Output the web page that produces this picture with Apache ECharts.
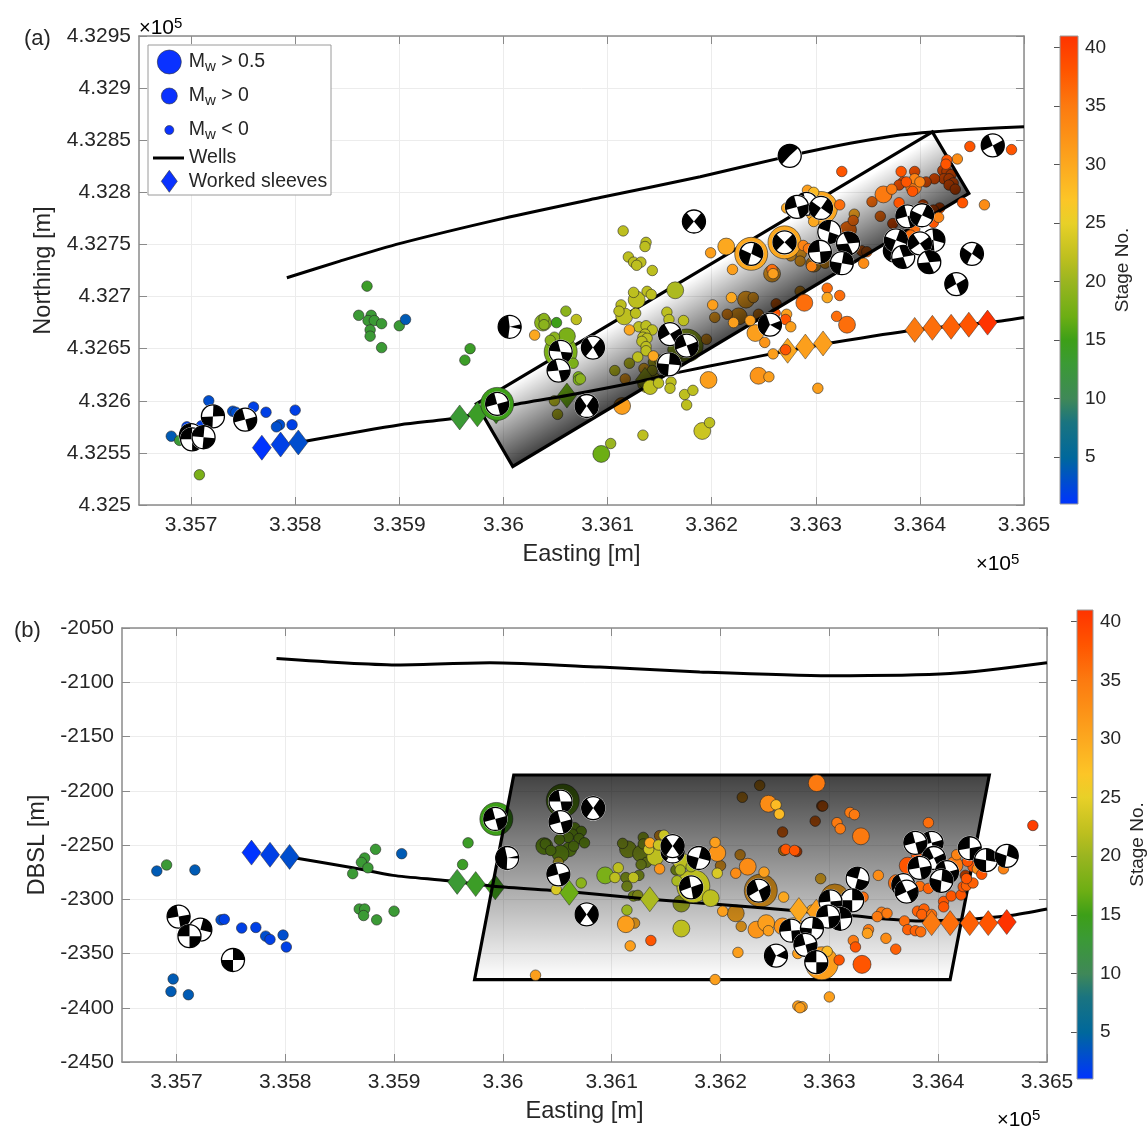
<!DOCTYPE html>
<html><head><meta charset="utf-8">
<script src="https://cdn.jsdelivr.net/npm/echarts@6/dist/echarts.min.js"></script>
<style>html,body{margin:0;padding:0;background:#fff}#c{width:1148px;height:1126px}</style>
</head><body><div id="c"></div>
<script>
// ---- axis tick values
const eastTicks=[335700,335800,335900,336000,336100,336200,336300,336400,336500];
const stageTicks=[5,10,15,20,25,30,35,40];
// ---- colormap: [stage, colour]
const stageStops=[[1,'#0033ff'],[5,'#00689c'],[8,'#1a7480'],[10,'#3f8858'],[13,'#3b9a35'],[15,'#3d9f18'],[17,'#6cae14'],[20,'#9ab520'],[22,'#bdbf1f'],[25,'#e8d028'],[27,'#fcc527'],[30,'#fca81f'],[33,'#fc8c15'],[35,'#fc7a10'],[38,'#ff5500'],[41,'#ff3300']];
// ---- wells [easting, northing] / [easting, depth]
const wellUpperMap=[[335792,432718],[335843,432734],[335901,432751],[336000,432775],[336093,432795],[336189,432815],[336275,432835],[336333,432847],[336381,432855],[336412,432858],[336458,432861],[336500,432863]];
const wellLowerMap=[[335803,432560],[335901,432577],[335958,432584],[336009,432596],[336061,432605],[336128,432618],[336167,432627],[336227,432639],[336273,432648],[336317,432656],[336395,432668],[336465,432675],[336500,432680]];
const wellUpperDepth=[[335792,-2078],[335906,-2084],[335988,-2082],[336089,-2086],[336181,-2090.5],[336300,-2094],[336411,-2092],[336500,-2082]];
const wellLowerDepth=[[335804,-2261],[335862,-2271],[335899,-2278],[335950,-2283],[335991,-2288],[336062,-2293],[336135,-2300],[336202,-2305],[336261,-2310],[336319,-2315],[336383,-2320],[336420,-2319],[336466,-2315],[336500,-2309]];
// ---- fracture plane outline and its shading direction
const planeMap=[[335974,432597],[336412,432858],[336447,432799],[336009,432537]];
const planeDepth=[[336010,-2185.5],[336447,-2185.5],[336411,-2374],[335974,-2374]];
const shadeMap=[[335974,432597],[336009,432537]];
const shadeDepth=[[336010,-2374],[336010,-2185.5]];
// ---- worked sleeves [easting, northing|depth, stage]
const sleevesMapBehind=[[335993,432590,15],[336061,432605,17],[336136,432620,21]];
const sleevesMapFront=[[335768,432555,1],[335786,432558,2],[335803,432560,3],[335958,432584,13],[335975,432587,14],[336273,432648,30],[336290,432652,31],[336307,432655,31],[336395,432668,35],[336412,432670,36],[336430,432671,37],[336447,432673,38],[336465,432675,41]];
const sleevesDepthBehind=[[335993,-2289,15]];
const sleevesDepthFront=[[335769,-2257,1],[335786,-2259,2],[335804,-2261,3],[335958,-2284,13],[335975,-2286,14],[336061,-2294,17],[336135,-2300,21],[336272,-2310,30],[336288,-2311.5,31],[336305,-2313,31],[336394,-2322,35],[336411,-2322,36],[336429,-2322,37],[336446,-2322,38],[336463,-2321,41]];
// ---- microseismic events [easting, northing, stage, Mw]
const eventsMapBehind=[
[336121,432636,22,-.3],[336107,432629,22,-.3],[336117,432621,30,-.3],[336135,432631,28,-.3],[336144,432637,22,-.3],[336143,432629,22,-.3],[336150,432639,23,-.3],[336138,432617,23,.4],[336143,432620,23,.3],
[336195,432659,30,-.3],[336203,432680,30,-.3],[336215,432683,32,-.3],[336226,432681,30,.3],[336233,432697,30,.3],[336240,432699,30,-.3],[336245,432683,32,-.3],[336258,432722,30,.3],
[336049,432600,22,-.3],[336052,432587,22,-.3],[336114,432595,31,.3],[336262,432693,36,-.3],[336261,432684,38,-.3],[336176,432653,20,1],[336167,432649,20,.4],
[336337,432779,30,-.3],[336336,432773,36,-.3],[336331,432764,36,.3],[336286,432741,30,-.3],[336285,432734,30,-.3],[336276,432739,30,-.3],[336298,432731,30,.25],[336309,432732,30,-.3],[336285,432705,30,-.3],
[336395,432820,38,-.3],[336422,432821,38,-.3],[336426,432820,38,-.3],[336430,432817,38,-.3],[336423,432813,38,-.3],[336428,432813,38,-.3],[336432,432809,38,-.3],[336428,432807,38,-.3],[336434,432803,38,-.3],[336414,432813,38,-.3],[336406,432810,38,-.3],[336384,432810,38,-.3],[336380,432807,38,-.3],[336368,432797,33,-.3],[336354,432791,36,-.3],[336362,432777,36,-.3],[336374,432770,38,-.3],[336419,432785,38,-.3],[336413,432783,38,-.3],[336403,432788,38,-.3],[336344,432744,36,-.3],[336349,432743,36,-.3]];
const eventsMapFront=[
[335717,432600,3,-.5],[335681,432566,4,-.5],[335696,432575,2,-.5],[335710,432576,2,-.5],[335689,432562,13,-.5],[335708,432529,18,-.5],[335740,432590,3,-.5],[335743,432589,3,-.5],[335760,432594,2,-.5],[335772,432589,2,-.5],[335785,432577,3,-.5],[335782,432575,3,-.5],[335797,432577,2,-.5],[335800,432591,2,-.5],
[335861,432682,13,-.5],[335873,432682,13,-.5],[335870,432677,13,-.5],[335876,432677,13,-.5],[335883,432674,13,-.5],[335872,432668,13,-.5],[335872,432662,13,-.5],[335883,432651,13,-.5],[335900,432672,13,-.5],[335906,432678,4,-.5],[335968,432650,14,-.5],[335963,432639,14,-.5],[335869,432710,14,-.5],
[336115,432763,22,-.3],[336137,432752,22,-.3],[336136,432748,22,-.3],[336120,432738,22,-.3],[336125,432733,22,-.3],[336132,432733,22,-.3],[336128,432730,22,-.3],[336143,432725,22,-.3],[336125,432704,22,-.3],[336138,432705,22,-.3],[336142,432702,22,-.3],[336128,432697,22,.3],[336165,432706,21,.3],[336113,432692,22,-.3],[336111,432686,22,-.3],[336116,432681,22,.3],[336127,432684,22,-.3],
[336060,432686,19,-.3],[336070,432678,22,-.3],[336051,432675,15,-.3],[336038,432675,19,.3],[336039,432679,19,-.3],[336039,432673,19,-.3],[336030,432663,30,-.3],[336049,432661,19,-.3],[336045,432658,19,-.3],[336061,432662,18,.3],[336067,432636,18,-.3],[336072,432623,18,-.3],[336072,432620,18,-.3],[336074,432621,19,-.3],
[336130,432671,22,-.3],[336137,432672,22,-.3],[336143,432668,22,-.3],[336121,432668,30,-.3],[336136,432664,22,-.3],[336134,432661,22,-.3],[336138,432660,22,-.3],[336133,432657,22,-.3],[336137,432652,22,-.3],[336137,432648,22,-.3],[336129,432642,22,-.3],[336144,432643,30,-.3],
[336141,432613,22,.2],[336149,432617,22,-.3],[336161,432618,22,-.3],[336160,432612,22,-.3],[336174,432606,22,-.3],[336182,432610,22,-.3],[336176,432596,22,-.3],[336198,432579,22,-.3],[336191,432571,23,.3],[336134,432567,22,-.3],[336103,432559,20,-.3],[336094,432549,17,.3],
[336197,432620,31,.3],[336245,432624,32,.3],[336255,432623,31,-.3],[336242,432665,31,.3],[336251,432656,32,-.3],[336157,432685,22,-.3],[336159,432678,22,-.3],[336173,432677,22,-.3],[336201,432692,31,-.3],[336219,432699,30,-.3],[336221,432675,31,-.3],[336237,432677,31,-.3],[336199,432742,31,-.3],[336214,432748,30,.3],[336220,432726,31,-.3],[336258,432726,36,-.3],[336259,432722,31,-.3],
[335994,432597,15,1],[336055,432647,18,1],[336238,432741,30,1],[336270,432752,30,1],[336305,432785,30,1],
[336292,432802,31,-.3],[336298,432800,28,-.3],[336272,432785,30,-.3],[336298,432772,30,-.3],[336323,432788,36,-.3],[336288,432749,34,-.3],[336293,432746,35,-.3],[336296,432729,34,-.3],[336311,432708,36,-.3],[336323,432701,36,-.3],[336311,432699,30,-.3],[336289,432694,36,.3],[336272,432683,31,-.3],[336271,432678,38,-.3],[336276,432671,31,-.3],[336259,432645,31,-.3],[336271,432649,38,-.3],[336302,432612,31,-.3],[336320,432681,36,-.3],[336330,432673,36,.3],
[336325,432820,38,-.3],[336448,432844,38,-.3],[336488,432841,38,-.3],[336436,432832,33,-.3],[336426,432831,38,-.3],[336425,432827,38,-.3],[336382,432820,38,-.3],[336395,432813,34,-.3],[336387,432810,38,-.3],[336400,432810,34,-.3],[336373,432803,35,-.3],[336365,432798,35,.3],[336380,432790,38,-.3],[336394,432805,35,.25],[336393,432801,38,-.3],[336462,432788,33,-.3],[336441,432790,38,-.3],[336413,432771,38,-.3],[336418,432776,34,-.3],[336395,432765,36,-.3],[336391,432759,36,-.3],[336346,432732,33,-.3]];
const eventsDepthBehind=[
[335994,-2226,15,1],[336055,-2209,17,1],[336066,-2234,18,-.3],[336072,-2237.4,18,-.3],[336064,-2240,18,-.3],[336070,-2244,18,-.3],[336060,-2243,18,-.3],[336052,-2245,18,-.3],[336075,-2248,18,-.3],[336065,-2251,18,-.3],[336061,-2254,18,.2],[336053,-2258,18,.3],[336038,-2251,18,.3],[336039,-2249,18,-.3],[336044,-2255,18,-.3],[336051,-2266,24,-.3],
[336115,-2254,20,.3],[336110,-2248.5,20,-.3],[336129,-2243,20,-.3],[336129,-2249,20,-.3],[336127,-2258,20,.3],[336132,-2266,20,-.3],[336127,-2268,20,-.3],[336144,-2241.4,30,-.3],[336159,-2273,20,-.3],[336113,-2280,20,-.3],[336125,-2278,20,-.3],[336114,-2288,20,-.3],[336120,-2297,20,-.3],[336124,-2296.4,21,-.3],[336164,-2304,21,.3],[336121,-2322,30,-.3],
[336214,-2313,30,.3],[336219,-2325,30,-.3],[336200,-2269,30,-.3],[336218,-2259,30,-.3],[336220,-2206,30,-.3],[336236,-2195,30,-.3],[336257,-2238,36,-.3],[336258,-2255,30,-.3],[336237,-2292,30,1],[336293,-2214,36,-.3],[336294,-2214,36,-.3],[336287,-2228,36,-.3],[336270,-2256,38,-.3],[336292,-2281,28,-.3],[336425,-2278,38,-.3],[336305,-2299,30,.8]];
const eventsDepthFront=[
[335682,-2274,4,-.5],[335691,-2268.4,13,-.5],[335717,-2273,4,-.5],[335697,-2373.5,4,-.5],[335695,-2385,4,-.5],[335711,-2388,4,-.5],[335741,-2319,3,-.5],[335744,-2318.5,2,-.5],[335760,-2326.5,2,-.5],[335773,-2326,2,-.5],[335782,-2334,3,-.5],[335786,-2337,2,-.5],[335798,-2333,3,-.5],[335801,-2344,2,-.5],
[335883,-2254,13,-.5],[335873,-2262,13,-.5],[335870,-2266,13,-.5],[335876,-2271,13,-.5],[335862,-2276.4,13,-.5],[335907,-2258,4,-.5],[335868,-2309,13,-.5],[335873,-2309,13,-.5],[335872,-2315,13,-.5],[335884,-2319,13,-.5],[335900,-2311,13,-.5],[335968,-2248,14,-.5],[335963,-2268,14,-.5],
[336175,-2288,22,1],[336072,-2285,19,-.3],[336049,-2291,24,-.3],[336134,-2254,23,-.3],[336135,-2248,30,-.3],[336140,-2261,22,.3],[336148,-2241,23,-.3],[336143,-2250,23,-.3],[336144,-2272,32,-.3],[336163,-2273,21,-.3],[336164,-2265,22,.3],[336160,-2283,21,-.3],[336173,-2270,21,-.3],[336106,-2271,22,-.3],[336094,-2278,18,.3],[336103,-2280,22,-.3],[336120,-2280,22,-.3],[336114,-2310,20,-.3],[336191,-2299,22,.3],[336164,-2327,22,.3],[336113,-2323,31,.3],[336117,-2343,31,-.3],[336136,-2338,38,-.3],[336030,-2370,31,-.3],[336195,-2374,31,-.3],[336202,-2311,31,-.3],
[336233,-2328,32,.3],[336242,-2322,31,.3],[336244,-2329,31,-.3],[336258,-2298,30,-.3],[336257,-2325,32,.3],[336216,-2349,31,-.3],[336197,-2276,24,-.3],[336214,-2276,33,-.3],[336225,-2270,33,.3],[336240,-2275,31,-.3],[336197,-2257.4,32,.3],[336195,-2247.6,31,-.3],[336244,-2212,33,.3],[336251,-2213,28,-.3],[336254,-2221.5,28,-.3],[336260,-2254,38,-.3],
[336288.4,-2193,35,.3],[336307,-2229.4,35,-.3],[336310,-2235,35,-.3],[336319,-2220,35,-.3],[336323,-2222,35,-.3],[336329,-2242,35,.3],[336268,-2255,38,-.3],[336391,-2229.4,36,-.3],[336487,-2232,40,-.3],[336345,-2278,33,-.3],[336331,-2298,36,-.3],[336348,-2312,35,-.3],[336344,-2316,35,-.3],[336353,-2313,35,-.3],[336369,-2320,36,-.3],[336372,-2328,37,-.3],[336379,-2329,37,-.3],[336384,-2330,36,-.3],[336381,-2311,37,-.3],[336387,-2309,37,-.3],[336385,-2314,37,-.3],[336394,-2314,36,-.3],
[336405,-2302,38,-.3],[336405,-2307,38,-.3],[336412,-2297,38,-.3],[336421,-2296,38,-.3],[336423,-2288.4,38,-.3],[336426,-2287.5,37,-.3],[336432,-2285,37,-.3],[336426,-2281,38,-.3],[336432,-2270,38,-.3],[336436,-2272,33,-.3],[336440,-2277,38,-.3],[336460,-2272,34,-.3],[336427,-2265,38,-.3],[336417,-2259,34,-.3],[336415,-2268.5,35,.3],[336372,-2269,38,.3],[336362,-2285,36,.3],[336383,-2288,36,-.3],[336391,-2290,37,-.3],[336380,-2259,38,-.3],
[336336,-2328,35,-.3],[336335,-2331.4,31,-.3],[336352,-2336,33,-.3],[336322,-2338,35,-.3],[336324,-2344,38,-.3],[336361,-2346,37,-.3],[336309,-2356,38,-.3],[336330,-2360,38,.35],[336298,-2348,28,-.3],[336271,-2350,31,-.3],[336293,-2359,31,1],[336300,-2390,31,-.3],[336271,-2398.4,31,-.3],[336275,-2399,31,-.3],[336273,-2400,31,-.3],[336267,-2328,30,.6],[336284,-2310,30,-.3]];
// ---- focal mechanisms [easting, northing|depth, black-lobe azimuth, lobe width, opposite lobe width]
const ballsMap=[[335700,432567,135,90,90],[335721,432585,45,85,85],[335752,432582,150,90,90],[335701,432563,135,90,90],[335712,432565,130,90,90],
[336183,432772,0,100,100],[336006,432671,180,165,25],[336055,432647,140,70,70],[336053,432629,145,80,80],[336086,432651,175,110,110],[336080,432595,0,110,110],[335994,432597,150,90,90],[336238,432741,25,100,100],[336160,432664,165,90,90],[336176,432653,155,90,90],[336159,432635,40,90,90],
[336275,432835,135,185,0],[336470,432845,160,95,95],[336256,432673,175,130,50],[336291,432789,150,90,90],[336282,432786,150,90,90],[336305,432785,10,90,90],[336313,432762,120,80,80],[336331,432751,60,110,110],[336304,432743,140,90,90],[336325,432732,35,90,90],[336270,432752,0,90,90],
[336376,432744,20,90,90],[336377,432754,25,90,90],[336388,432777,150,90,90],[336402,432778,20,90,90],[336384,432738,60,100,100],[336413,432754,40,110,110],[336400,432751,170,90,90],[336409,432733,60,110,110],[336450,432741,15,100,100],[336435,432712,160,100,100]];
const ballsDepth=[[335702,-2316,145,90,90],[335722,-2328,30,90,90],[335712,-2334,135,90,90],[335752,-2356,45,90,90],
[335993,-2226,150,90,90],[336053,-2210,140,80,80],[336053,-2229,150,90,90],[336083,-2216,0,110,110],[336004,-2262,185,165,15],[336051,-2277,150,90,90],[336077,-2314,0,110,110],[336156,-2256,0,110,110],[336156,-2251,0,110,110],[336180,-2262,30,90,90],[336173,-2289,150,100,100],[336235,-2292,160,100,100],[336251,-2352,185,130,50],
[336326,-2281,120,90,90],[336394,-2248,150,90,90],[336379,-2248,150,90,90],[336396,-2262,160,90,90],[336429,-2253,140,100,100],[336444,-2264,40,100,100],[336463,-2260,30,100,100],[336368,-2287,160,90,90],[336371,-2293,160,90,90],[336408,-2275,150,90,90],[336383,-2271,145,90,90],[336403,-2283,35,100,100],
[336321,-2301,45,90,90],[336301,-2302,140,90,90],[336310,-2318,50,90,90],[336299,-2316,140,90,90],[336265,-2329,140,90,90],[336284,-2327,40,90,90],[336278,-2342,150,90,90],[336288,-2358,135,90,90]];

const FONT='"Liberation Sans",Arial,sans-serif', INK='#262626', BOX='#8a8a8a';
const MW_BIG='Mw > 0.5', MW_MID='Mw > 0', MW_SMALL='Mw < 0', WELLS='Wells', SLEEVES='Worked sleeves';

function hex(c){return [1,3,5].map(i=>parseInt(c.substr(i,2),16));}
function stageColor(s){
  for(let i=1;i<stageStops.length;i++){
    if(s<=stageStops[i][0]){
      const a=stageStops[i-1],b=stageStops[i],t=(s-a[0])/(b[0]-a[0]);
      const A=hex(a[1]),B=hex(b[1]);
      return 'rgb('+A.map((v,k)=>Math.round(v+(B[k]-v)*t)).join(',')+')';
    }
  }
  return stageStops[stageStops.length-1][1];
}
const eventSize=v=>v[3]<0?10.5:10+v[3]*23;
const edge={borderColor:'rgba(40,40,40,.75)',borderWidth:.8,opacity:1};

function eventSeries(rows,name,filter,g,z){
  return {type:'scatter',name,xAxisIndex:g,yAxisIndex:g,z,
    data:rows.filter(filter),symbolSize:eventSize,
    itemStyle:Object.assign({color:p=>stageColor(p.value[2])},edge),
    silent:true,animation:false};
}
function eventLayers(rows,g,z){
  return [eventSeries(rows,MW_BIG,r=>r[3]>0.5,g,z),
          eventSeries(rows,MW_MID,r=>r[3]>=0&&r[3]<=0.5,g,z),
          eventSeries(rows,MW_SMALL,r=>r[3]<0,g,z)];
}
function sleeveSeries(rows,g,z){
  return {type:'scatter',name:SLEEVES,xAxisIndex:g,yAxisIndex:g,z,data:rows,symbol:'diamond',symbolSize:[19,25],
    itemStyle:{color:p=>stageColor(p.value[2]),borderColor:'rgba(40,40,40,.6)',borderWidth:.8,opacity:1},silent:true,animation:false};
}
function wellSeries(rows,g){
  return {type:'line',name:WELLS,xAxisIndex:g,yAxisIndex:g,z:4,data:rows,showSymbol:false,symbol:'none',smooth:.25,
    lineStyle:{color:'#000',width:3},silent:true,animation:false};
}
function planeSeries(corners,shade,g){
  return {type:'custom',xAxisIndex:g,yAxisIndex:g,z:3,silent:true,animation:false,
    data:[corners[0]],encode:{x:0,y:1},
    renderItem:(p,api)=>{
      const pts=corners.map(c=>api.coord(c));
      const a=api.coord(shade[0]),b=api.coord(shade[1]);
      return {type:'polygon',shape:{points:pts},style:{
        fill:new echarts.graphic.LinearGradient(a[0],a[1],b[0],b[1],[
          {offset:0,color:'rgba(0,0,0,0)'},{offset:1,color:'rgba(0,0,0,.74)'}],true),
        stroke:'#000',lineWidth:3.2,lineJoin:'miter'}};
    }};
}
function ballSeries(rows,g){
  return {type:'custom',xAxisIndex:g,yAxisIndex:g,z:8,silent:true,animation:false,data:rows,encode:{x:0,y:1},
    renderItem:(p,api)=>{
      const c=api.coord([api.value(0),api.value(1)]),ang=api.value(2),w1=api.value(3),w2=api.value(4),r=11.5;
      const rad=d=>d*Math.PI/180;
      const wedge=(a,w)=>({type:'sector',shape:{cx:c[0],cy:c[1],r0:0,r:r,startAngle:rad(-(a+w/2)),endAngle:rad(-(a-w/2)),clockwise:true},style:{fill:'#000'}});
      const kids=[{type:'circle',shape:{cx:c[0],cy:c[1],r:12.4},style:{fill:'#fff'}},
                  {type:'circle',shape:{cx:c[0],cy:c[1],r:r},style:{fill:'#fff',stroke:'#000',lineWidth:1.3}}];
      if(w1>0)kids.push(wedge(ang,w1));
      if(w2>0)kids.push(wedge(ang+180,w2));
      return {type:'group',children:kids};
    }};
}
function colorbarSeries(g){
  return {type:'custom',xAxisIndex:g,yAxisIndex:g,z:2,silent:true,animation:false,data:[[0,1]],encode:{x:0,y:1},
    renderItem:(p,api)=>{
      const a=api.coord([0,41]),b=api.coord([1,1]);
      return {type:'rect',shape:{x:a[0],y:a[1],width:b[0]-a[0],height:b[1]-a[1]},style:{
        fill:new echarts.graphic.LinearGradient(0,1,0,0,stageStops.map(s=>({offset:(s[0]-1)/40,color:s[1]}))),
        stroke:'#9a9a9a',lineWidth:1}};
    }};
}
const tick={show:true,inside:true,length:8,lineStyle:{color:BOX,width:1}};
const line={show:true,onZero:false,lineStyle:{color:BOX,width:1.5}};
const grid={show:true,lineStyle:{color:'#ececec',width:1}};
const fmtE=v=>String(+(v/1e5).toFixed(4));
function xAxes(g,nameGap){
  return [{type:'value',gridIndex:g,min:335650,max:336500,position:'bottom',
      axisTick:Object.assign({customValues:eastTicks},tick),axisLine:line,splitLine:grid,
      axisLabel:{customValues:eastTicks,formatter:fmtE,fontFamily:FONT,fontSize:21,color:INK,margin:10},
      name:'Easting [m]',nameLocation:'middle',nameGap,nameTextStyle:{fontFamily:FONT,fontSize:23.6,color:INK}},
    {type:'value',gridIndex:g,min:335650,max:336500,position:'top',
      axisTick:Object.assign({customValues:eastTicks},tick),axisLine:line,splitLine:{show:false},axisLabel:{show:false}}];
}
function yAxes(g,min,max,fmt,name,nameGap){
  return [{type:'value',gridIndex:g,min,max,interval:50,position:'left',
      axisTick:tick,axisLine:line,splitLine:grid,
      axisLabel:{formatter:fmt,fontFamily:FONT,fontSize:21,color:INK,margin:8,showMinLabel:true,showMaxLabel:true},
      name,nameLocation:'middle',nameGap,nameRotate:90,nameTextStyle:{fontFamily:FONT,fontSize:23.6,color:INK}},
    {type:'value',gridIndex:g,min,max,interval:50,position:'right',
      axisTick:tick,axisLine:line,splitLine:{show:false},axisLabel:{show:false}}];
}
const cbX=g=>({type:'value',gridIndex:g,min:0,max:1,show:false});
const cbY=g=>({type:'value',gridIndex:g,min:1,max:41,position:'right',
  axisLine:{show:false},splitLine:{show:false},
  axisTick:{show:true,inside:true,length:6,customValues:stageTicks,lineStyle:{color:'#555',width:1}},
  axisLabel:{customValues:stageTicks,fontFamily:FONT,fontSize:19,color:INK,margin:7},
  name:'Stage No.',nameLocation:'middle',nameRotate:90,nameGap:35,nameTextStyle:{fontFamily:FONT,fontSize:19,color:INK}});

const LEG_BLUE='#0a32ff';
const richText={m:{fontFamily:FONT,fontSize:19.5,color:INK},s:{fontFamily:FONT,fontSize:15,color:INK,verticalAlign:'bottom',padding:[10,0,0,0],lineHeight:24}};
const legFmt={[MW_BIG]:'{m|M}{s|w}{m| > 0.5}',[MW_MID]:'{m|M}{s|w}{m| > 0}',[MW_SMALL]:'{m|M}{s|w}{m| < 0}',[WELLS]:'{m|Wells}',[SLEEVES]:'{m|Worked sleeves}'};
function legendRow(name,icon,w,h,left,top,color){
  return {show:true,left,top,padding:0,orient:'horizontal',selectedMode:false,z:100,
    itemWidth:w,itemHeight:h,itemGap:0,symbolKeepAspect:true,
    data:[{name,icon,itemStyle:{color,opacity:1,borderColor:name===WELLS?color:'#333',borderWidth:name===WELLS?0:.6}}],
    formatter:n=>legFmt[n],textStyle:{fontFamily:FONT,fontSize:19.5,color:INK,rich:richText}};
}
const sup=(x,y)=>({type:'text',x,y,z:100,style:{text:'{a|×}{b|10}{c|5}',rich:{a:{fontFamily:FONT,fontSize:20,color:INK},b:{fontFamily:FONT,fontSize:21,color:INK},c:{fontFamily:FONT,fontSize:15,color:INK,verticalAlign:'top',padding:[0,0,10,0]}}}});
const label=(t,x,y)=>({type:'text',x,y,z:100,style:{text:t,fontFamily:FONT,fontSize:22,fill:INK}});

const chart=echarts.init(document.getElementById('c'),null,{renderer:'canvas'});
chart.setOption({
  animation:false,backgroundColor:'#fff',
  grid:[{left:139,top:36,width:885,height:469,containLabel:false},{left:122,top:628,width:925,height:434},
        {left:1060,top:36,width:18,height:468},{left:1077,top:610,width:18,height:469}],
  xAxis:[...xAxes(0,37),...xAxes(1,37),cbX(2),cbX(3)],
  yAxis:[...yAxes(0,432500,432950,fmtE,'Northing [m]',69),...yAxes(1,-2450,-2050,v=>String(v),'DBSL [m]',61),cbY(2),cbY(3)],
  legend:[
    legendRow(MW_BIG,'circle',29,24,157,49,LEG_BLUE),
    legendRow(MW_MID,'circle',29,16,161,83,LEG_BLUE),
    legendRow(MW_SMALL,'circle',29,9,164.5,117,LEG_BLUE),
    legendRow(WELLS,'rect',31,3,153,148,'#000'),
    legendRow(SLEEVES,'path://M8,0L16,11L8,22L0,11Z',29,22,161,170,LEG_BLUE)],
  graphic:{elements:[
    {type:'rect',z:90,shape:{x:148,y:45,width:183,height:150},style:{fill:'#fff',stroke:'#9a9a9a',lineWidth:1}},
    sup(139,16),sup(976,552),sup(997,1108),label('(a)',24,28),label('(b)',14,620)]},
  series:[
    ...eventLayers(eventsMapBehind,0,2),sleeveSeries(sleevesMapBehind,0,2),
    planeSeries(planeMap,shadeMap,0),
    wellSeries(wellUpperMap,0),wellSeries(wellLowerMap,0),
    sleeveSeries(sleevesMapFront,0,5),
    ...eventLayers(eventsMapFront,0,6),
    ballSeries(ballsMap,0),
    ...eventLayers(eventsDepthBehind,2,2),sleeveSeries(sleevesDepthBehind,2,2),
    planeSeries(planeDepth,shadeDepth,2),
    wellSeries(wellUpperDepth,2),wellSeries(wellLowerDepth,2),
    sleeveSeries(sleevesDepthFront,2,6),
    ...eventLayers(eventsDepthFront,2,5),
    ballSeries(ballsDepth,2),
    colorbarSeries(4),colorbarSeries(5)
  ]
});
</script></body></html>
